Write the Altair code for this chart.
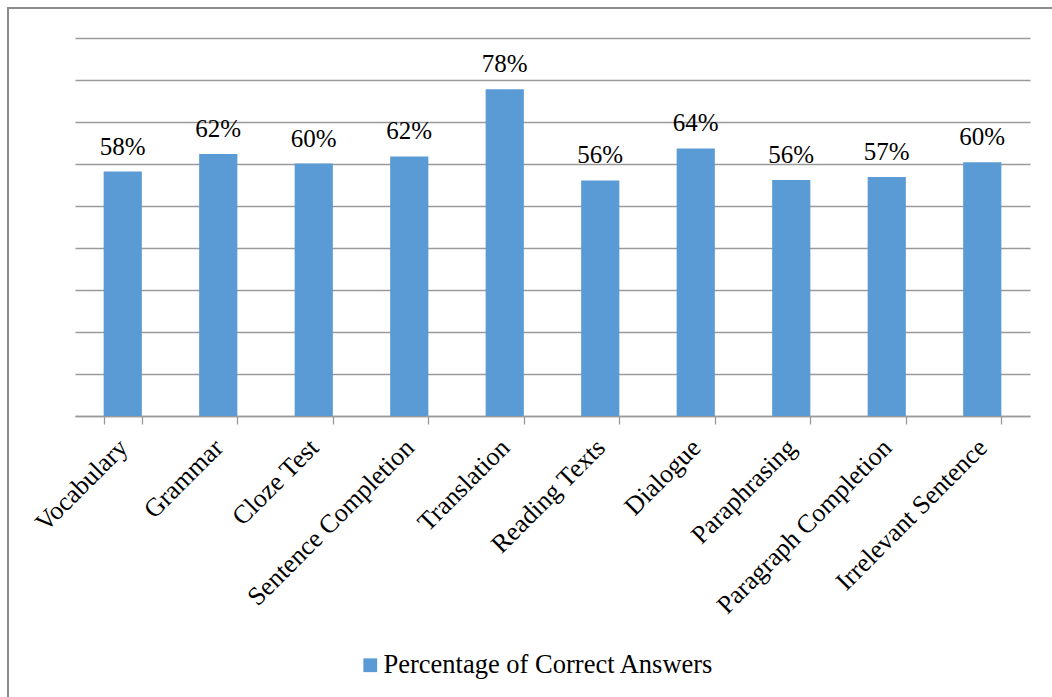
import altair as alt
import pandas as pd

# Question types and share of correct answers
categories = [
    "Vocabulary", "Grammar", "Cloze Test", "Sentence Completion", "Translation",
    "Reading Texts", "Dialogue", "Paraphrasing", "Paragraph Completion",
    "Irrelevant Sentence",
]
correct_share = [0.582, 0.624, 0.601, 0.618, 0.778, 0.561, 0.637, 0.562, 0.569, 0.604]
series_name = "Percentage of Correct Answers"
grid_values = [0, 0.1, 0.2, 0.3, 0.4, 0.5, 0.6, 0.7, 0.8, 0.9]

df = pd.DataFrame({"category": categories, "share": correct_share, "series": series_name})

W, H = 955, 378
BAR = "#5B9BD5"
GRID = "#9A9A9A"
FONT = "'Liberation Serif', 'Times New Roman', 'DejaVu Serif', serif"

x_enc = alt.X(
    "category:N",
    sort=categories,
    title=None,
    scale=alt.Scale(paddingInner=0.6, paddingOuter=0.3),
    axis=alt.Axis(
        labelAngle=315, labelAlign="right", labelBaseline="top",
        labelFont=FONT, labelFontSize=26, labelColor="black",
        labelPadding=10, labelOffset=-9,
        tickBand="extent", tickSize=8, tickColor=GRID,
        domainColor=GRID, domainWidth=1.3, tickWidth=1.3, grid=False,
        labelOverlap=False, labelLimit=400,
    ),
)
y_enc = alt.Y(
    "share:Q",
    title=None,
    scale=alt.Scale(domain=[0, 0.9], nice=False),
    axis=alt.Axis(
        values=grid_values, labels=False, ticks=False, domain=False,
        grid=True, gridColor=GRID, gridWidth=1.3,
    ),
)

bars = alt.Chart(df).mark_bar(color=BAR).encode(
    x=x_enc,
    y=y_enc,
    color=alt.Color(
        "series:N",
        scale=alt.Scale(range=[BAR]),
        legend=alt.Legend(
            title=None, orient="none", legendX=282, legendY=614,
            symbolType="square", symbolSize=190, symbolStrokeWidth=0,
            labelFont=FONT, labelFontSize=26.5, labelColor="black",
            labelOffset=0, labelLimit=500,
        ),
    ),
)

labels = alt.Chart(df).mark_text(
    font=FONT, fontSize=25, color="black", baseline="bottom", dy=-12
).encode(
    x=alt.X("category:N", sort=categories),
    y="share:Q",
    text=alt.Text("share:Q", format=".0%"),
)

# outer frame around the whole figure
frame = alt.Chart(df).mark_rect(
    fill=None, stroke="#8C8C8C", strokeWidth=1.5, clip=False
).encode(
    x=alt.value(-67), x2=alt.value(W + 150),
    y=alt.value(-30), y2=alt.value(H + 400),
)

chart = (
    alt.layer(frame, bars, labels)
    .properties(
        width=W, height=H,
        padding={"left": 75, "top": 38, "right": 22, "bottom": 281},
        autosize=alt.AutoSizeParams(type="none"),
        background="white",
    )
    .configure_view(stroke=None)
)

chart.save("out.html", embed_options={"renderer": "svg", "actions": False})
